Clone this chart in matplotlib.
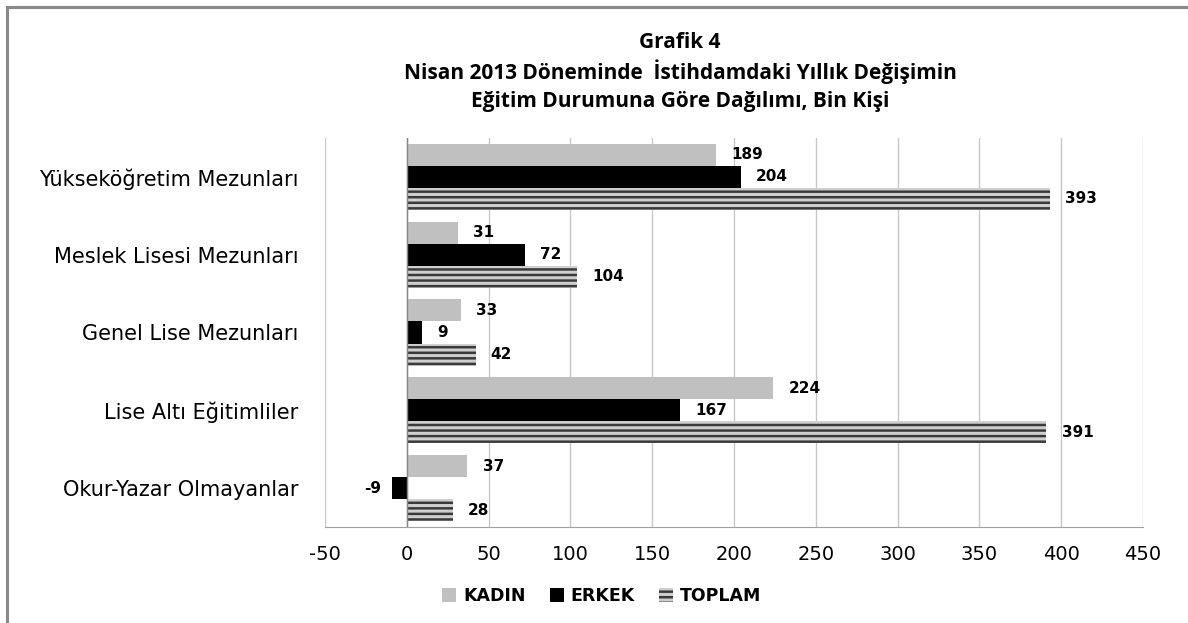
import numpy as np
import matplotlib.pyplot as plt
from matplotlib.lines import Line2D
from matplotlib.patches import Patch

plt.rcParams['font.family'] = ['DejaVu Sans']
plt.rcParams['hatch.linewidth'] = 1.8
plt.rcParams['hatch.color'] = '#3a3a3a'

# data
categories = ['Yükseköğretim Mezunları', 'Meslek Lisesi Mezunları', 'Genel Lise Mezunları',
              'Lise Altı Eğitimliler', 'Okur-Yazar Olmayanlar']
kadin = [189, 31, 33, 224, 37]
erkek = [204, 72, 9, 167, -9]
toplam = [393, 104, 42, 391, 28]
series_names = ['KADIN', 'ERKEK', 'TOPLAM']
xticks = [-50, 0, 50, 100, 150, 200, 250, 300, 350, 400, 450]

fig = plt.figure(figsize=(11.88, 6.23), dpi=100)
ax = fig.add_axes([325/1188, 1-527/623, (1143-325)/1188, (527-138)/623])

y = np.arange(len(categories))
h = 0.283

b1 = ax.barh(y - h, kadin, height=h, color='#c0c0c0', label='KADIN')
b2 = ax.barh(y, erkek, height=h, color='black', label='ERKEK')
b3 = ax.barh(y + h, toplam, height=h, color='#cfcfcf', hatch='---',
             edgecolor='#3a3a3a', linewidth=0, label='TOPLAM')

for bars, vals in [(b1, kadin), (b2, erkek), (b3, toplam)]:
    for bar, v in zip(bars, vals):
        cy = bar.get_y() + bar.get_height() / 2
        if v >= 0:
            ax.annotate(str(v), (v, cy), xytext=(11, 0), textcoords='offset points',
                        ha='left', va='center', fontsize=11, fontweight='bold')
        else:
            ax.annotate(str(v), (v, cy), xytext=(-8, 0), textcoords='offset points',
                        ha='right', va='center', fontsize=11, fontweight='bold')

ax.set_xlim(-50, 450)
ax.set_ylim(len(categories) - 0.5, -0.5)
ax.set_xticks(xticks)
ax.set_xticklabels([str(t) for t in xticks], fontsize=14)
ax.set_yticks(y)
ax.set_yticklabels(categories, fontsize=15)
ax.tick_params(axis='both', length=0)
ax.tick_params(axis='y', pad=19)
ax.tick_params(axis='x', pad=13)
ax.grid(axis='x', color='#c8c8c8', linewidth=1)
ax.set_axisbelow(True)
for s in ['top', 'right', 'left']:
    ax.spines[s].set_visible(False)
ax.spines['bottom'].set_color('#a0a0a0')
ax.axvline(0, color='#888888', linewidth=1, zorder=3)

title_kw = dict(ha='center', va='center', fontsize=15, fontweight='bold',
                family=['Open Sans', 'DejaVu Sans'])
fig.text(680/1188, 1-42/623, 'Grafik 4', **title_kw)
fig.text(680/1188, 1-72/623, 'Nisan 2013 Döneminde  İstihdamdaki Yıllık Değişimin', **title_kw)
fig.text(680/1188, 1-101/623, 'Eğitim Durumuna Göre Dağılımı, Bin Kişi', **title_kw)

handles = [Patch(facecolor='#c0c0c0'), Patch(facecolor='black'),
           Patch(facecolor='#cfcfcf', hatch='---', edgecolor='#3a3a3a', linewidth=0)]
fig.legend(handles, series_names, loc='center', bbox_to_anchor=(602/1188, 1-596/623),
           ncol=3, frameon=False, handlelength=0.8, handleheight=0.8, handletextpad=0.4,
           columnspacing=1.4, prop={'weight': 'bold', 'size': 12.5})

# outer frame (left and top only)
fig.add_artist(Line2D([7/1188, 7/1188], [0, 1-7/623], color='#888888', linewidth=2.2))
fig.add_artist(Line2D([7/1188, 1], [1-7/623, 1-7/623], color='#888888', linewidth=2.2))

fig.savefig('out.png', dpi=100)
